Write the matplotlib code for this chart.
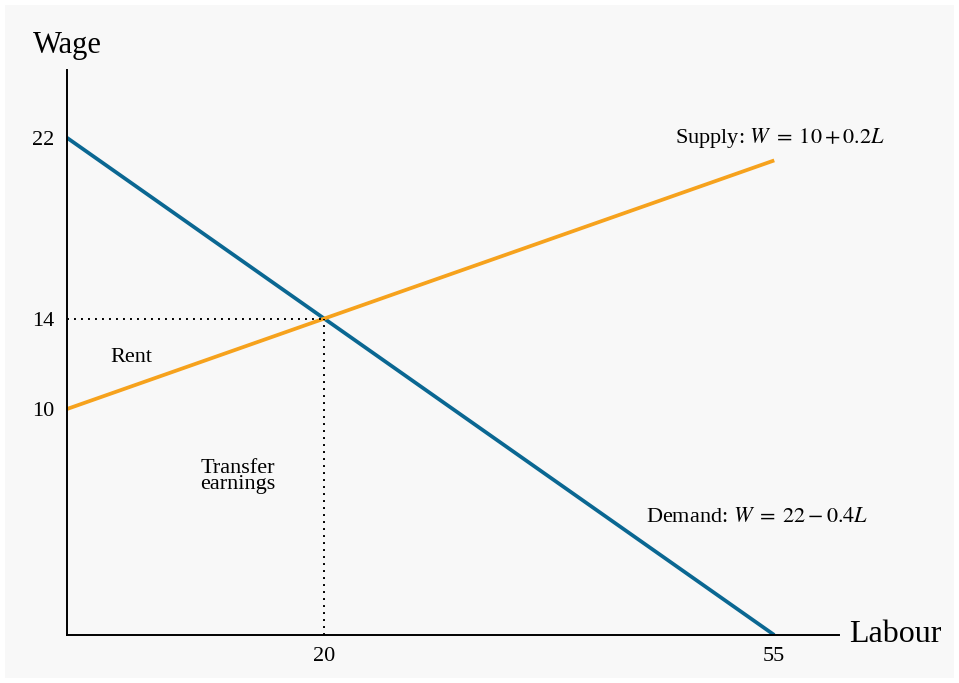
"""Labour market: supply, demand, economic rent and transfer earnings."""

import matplotlib
matplotlib.use("Agg")
import matplotlib.pyplot as plt
import numpy as np
from matplotlib.patches import Rectangle

plt.rcParams["font.family"] = ["Liberation Serif", "DejaVu Serif"]
plt.rcParams["mathtext.fontset"] = "stix"

# data
labour = np.array([0, 55])
demand_wage = np.array([22, 0])      # W = 22 - 0.4L
supply_wage = np.array([10, 21])     # W = 10 + 0.2L
eq_labour = 20
eq_wage = 14
x_ticks = [20, 55]
y_ticks = [10, 14, 22]

BLUE = "#0a6792"
ORANGE = "#f6a21d"

fig = plt.figure(figsize=(9.59, 6.83), dpi=100)
fig.patch.set_facecolor("white")
fig.patches.append(Rectangle((5 / 959, 5 / 683), 949 / 959, 673 / 683,
                             transform=fig.transFigure, facecolor="#f8f8f8",
                             edgecolor="none", zorder=-10))

ax = fig.add_axes([0.0699, 0.0703, 0.8045, 0.8272])
ax.set_facecolor("none")
ax.set_xlim(0, 60)
ax.set_ylim(0, 25)

for side in ("top", "right"):
    ax.spines[side].set_visible(False)
for side in ("left", "bottom"):
    ax.spines[side].set_linewidth(1.4)
    ax.spines[side].set_color("black")

ax.plot(labour, demand_wage, color=BLUE, linewidth=2.7, solid_capstyle="butt")
ax.plot(labour, supply_wage, color=ORANGE, linewidth=2.7, solid_capstyle="butt")

# equilibrium guides
dots = (0, (1, 2.6))
ax.plot([0, eq_labour], [eq_wage, eq_wage], color="black", linestyle=dots, linewidth=1.4)
ax.plot([eq_labour, eq_labour], [0, eq_wage], color="black", linestyle=dots, linewidth=1.4)

ax.set_xticks(x_ticks)
ax.set_yticks(y_ticks)
ax.tick_params(axis="both", length=0, labelsize=16)
ax.tick_params(axis="x", pad=9)
ax.tick_params(axis="y", pad=9)

ax.text(0, 26.1, "Wage", fontsize=22, ha="center", va="center", clip_on=False)
ax.text(60.8, 0, "Labour", fontsize=23, ha="left", va="center", clip_on=False)

ax.text(47.3, 22.0, r"Supply: $W\;=\;10+0.2L$", fontsize=16, ha="left", va="center")
ax.text(45.0, 5.2, r"Demand: $W\;=\;22-0.4L$", fontsize=16, ha="left", va="center")
ax.text(5.0, 12.3, "Rent", fontsize=16, ha="center", va="center")
ax.text(13.3, 7.0, "Transfer\nearnings", fontsize=16, ha="center", va="center",
        linespacing=0.8)

fig.savefig("out.png", dpi=100, facecolor=fig.get_facecolor())
